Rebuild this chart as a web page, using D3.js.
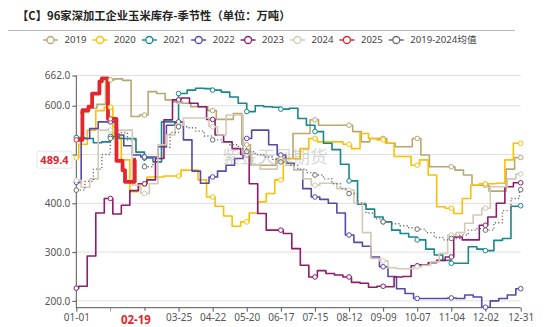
<!DOCTYPE html>
<html><head><meta charset="utf-8">
<script src="https://cdn.jsdelivr.net/npm/d3@7"></script>
<style>
body{margin:0;background:#fff;}
svg{display:block;font-family:"Noto Sans","Noto Sans CJK SC",sans-serif;}
</style>
</head><body>
<svg id="c" width="550" height="327"></svg>
<script>
// ---------------- data ----------------
const seriesNames = ["2019","2020","2021","2022","2023","2024","2025","2019-2024均值"];
const tickLabels = ["01-01","01-29","02-26","03-25","04-22","05-20","06-17","07-15","08-12","09-09","10-07","11-04","12-02","12-31"];
const yTickValues = [200,300,400,500,600,662];

// weekly series: first value at firstDate, second at secondDate, then every 7 days
const firstDates  = ["01-04","01-01","01-01","01-01","01-01","01-01","01-01"];
const secondDates = ["01-11","01-03","01-08","01-05","01-03","01-05","01-08"];

const v2019 = [586,595,603,653,655,652,578,581,629,625,612,608,605,598,598,590,572,572,584,520,478,478,478,492,492,543,543,571,560,560,560,560,547,526,533,533,523,516,516,533,499,475,475,475,468,458,437,437,425,425,470,494];
const v2020 = [493,521,550,590,597,536,489,424,439,454,454,456,456,468,468,448,413,394,374,353,362,380,403,420,448,492,492,512,533,526,526,526,521,512,543,533,530,523,496,496,478,489,458,393,390,379,410,437,440,440,441,489,523];
const v2021 = [535,533,524,526,537,533,533,505,493,485,567,567,625,632,636,635,632,628,618,605,588,600,598,597,593,595,574,560,547,523,510,480,446,398,388,372,362,345,338,331,325,306,294,283,277,277,311,306,303,324,328,394,395];
const v2022 = [443,533,553,567,567,540,518,499,495,495,516,560,567,530,466,441,454,466,478,492,533,550,550,520,499,482,468,430,413,408,400,380,335,320,312,290,270,250,225,215,205,205,205,205,206,205,212,208,187,200,205,212,225];
const v2023 = [226,230,292,380,410,378,396,426,440,448,492,571,612,616,605,598,572,540,526,512,500,440,379,345,345,338,307,273,249,262,256,253,249,238,236,228,230,229,249,250,272,274,278,283,290,331,325,325,355,372,400,434,442];
const v2024 = [447,433,450,550,550,550,550,437,420,440,520,540,560,575,575,575,557,540,581,581,500,478,470,470,490,478,468,450,437,441,441,430,427,400,340,287,282,268,266,266,270,273,280,297,335,340,359,376,390,434,434,450,460];
const vMean = [427,445,470,500,533,545,530,500,475,485,515,545,557,555,548,538,530,525,520,512,506,500,495,490,485,478,470,463,458,450,440,430,420,400,380,368,362,358,354,350,347,340,330,325,328,335,345,348,345,360,385,410,428];

const dates2025 = ["01-01","01-06","01-11","01-14","01-20","01-22","01-27","02-03","02-08","02-10","02-18","02-19"];
const v2025     = [530,591,598,625,650,656,573,487,468,444,489.4,489.4];

const pointerDate = "02-19";
const pointerValue = 489.4;

const colors = ["#b8a870","#fcc000","#15888d","#5a48a6","#8c1c6c","#d3c9b6","#e3262b","#6b6b6b"];

// ---------------- layout ----------------
const svg = d3.select("#c");
const X0 = 76.3, X1 = 520.7, YT = 75.5, YB = 307.7;
const base = new Date(2024,0,1);
const doy = s => { const [m,d] = s.split("-").map(Number); return d3.timeDay.count(base, new Date(2024,m-1,d)); };
const x = d3.scaleLinear().domain([0,365]).range([X0,X1]);
const y = d3.scaleLinear().domain([186,662]).range([YB,YT]);

const px = x(doy(pointerDate));
const py = y(pointerValue);
const boxL = px - 25.5, boxW = 51;

svg.append("defs").append("clipPath").attr("id","clipLeft")
  .append("rect").attr("x",0).attr("y",0).attr("width",boxL).attr("height",327);

// title
svg.append("text").attr("x",17).attr("y",20).attr("font-size",11.3).attr("font-weight","bold")
  .attr("font-family","'Noto Sans CJK SC',sans-serif").attr("fill","#222")
  .text("【C】96家深加工企业玉米库存-季节性（单位：万吨）");
svg.append("line").attr("x1",8).attr("x2",515).attr("y1",30.5).attr("y2",30.5).attr("stroke","#b5b5b5");

// legend
seriesNames.forEach((n,i)=>{
  const lx = 43 + i*49.4, ly = 40;
  const g = svg.append("g");
  g.append("line").attr("x1",lx).attr("x2",lx+15).attr("y1",ly).attr("y2",ly).attr("stroke",colors[i]).attr("stroke-width",1.5);
  g.append("circle").attr("cx",lx+7.5).attr("cy",ly).attr("r",3.5).attr("fill","#fff").attr("stroke",colors[i]).attr("stroke-width",1.3);
  g.append("text").attr("x",lx+21.5).attr("y",ly).attr("dy","0.35em").attr("font-size",9.6).attr("fill","#444").text(n);
});

// grid
const grid = svg.append("g");
yTickValues.forEach(v=>{
  grid.append("line").attr("x1",X0).attr("x2",X1).attr("y1",y(v)).attr("y2",y(v)).attr("stroke","#e0e0e0").attr("stroke-width",1);
});

// axes
const tickDays = tickLabels.map(doy);
// the 500 label sits under the value-pointer label, as in the reference
const yAxis = d3.axisLeft(y).tickValues(yTickValues).tickSize(4)
  .tickFormat(v => Math.abs(y(v)-py) < 12 ? "" : d3.format(".1f")(v));
const gy = svg.append("g").attr("transform",`translate(${X0},0)`).call(yAxis);
gy.select(".domain").attr("stroke","#555").attr("d",`M-0,${YT}V${YB}`);
gy.selectAll(".tick line").attr("stroke","#555");
gy.selectAll(".tick text").attr("font-size",10).attr("fill","#555").attr("x",-6).attr("font-family","'Noto Sans',sans-serif");

const xAxis = d3.axisBottom(x).tickValues(tickDays).tickSize(4).tickFormat((d,i)=>tickLabels[i]);
const gx = svg.append("g").attr("transform",`translate(0,${YB})`).call(xAxis);
gx.select(".domain").attr("stroke","#555").attr("d",`M${X0},0H${X1}`);
gx.selectAll(".tick line").attr("stroke","#555");
gx.selectAll(".tick text").attr("font-size",10).attr("fill","#555").attr("y",6).attr("font-family","'Noto Sans',sans-serif");
// tick label partly hidden behind the date-pointer label
gx.selectAll(".tick").filter(d => x(d) < boxL && x(d) + 14 > boxL)
  .select("text").attr("clip-path","url(#clipLeft)").attr("transform",null);
gx.selectAll(".tick").filter(d => x(d) < boxL && x(d) + 14 > boxL).attr("clip-path","url(#clipLeftT)");
gx.selectAll(".tick").each(function(d){
  if (x(d) < boxL && x(d) + 14 > boxL) {
    const t = d3.select(this);
    const tx = x(d);
    d3.select("defs").append("clipPath").attr("id","clipLeftT").append("rect")
      .attr("x",-tx).attr("y",-10).attr("width",boxL).attr("height",40);
  }
});

// series
const weekly = [v2019,v2020,v2021,v2022,v2023,v2024];
function weeklyPoints(vals, k){
  const d0 = doy(firstDates[k]), d1 = doy(secondDates[k]);
  const pts = vals.map((v,i)=>[i===0?d0:d1+7*(i-1), v]);
  pts.push([365, vals[vals.length-1]]);
  return pts;
}
const allSeries = [];
weekly.forEach((vals,k)=>allSeries.push({pts:weeklyPoints(vals,k), color:colors[k], width:1.6, dash:null}));
allSeries.push({pts:dates2025.map((d,i)=>[doy(d), v2025[i]]), color:colors[6], width:3.8, dash:null});
allSeries.push({pts:weeklyPoints(vMean,6), color:colors[7], width:1.4, dash:"1.2 2.2"});

const line = d3.line().x(d=>x(d[0])).y(d=>y(d[1])).curve(d3.curveStepAfter);
const gl = svg.append("g");
allSeries.forEach(s=>{
  gl.append("path").attr("d",line(s.pts)).attr("fill","none").attr("stroke",s.color)
    .attr("stroke-width",s.width).attr("stroke-dasharray",s.dash).attr("stroke-linejoin","round");
});
// markers at tick dates
allSeries.forEach(s=>{
  const first = s.pts[0][0], last = s.pts[s.pts.length-1][0];
  tickDays.forEach(t=>{
    if(t<first || t>last) return;
    let v = s.pts[0][1];
    for(const p of s.pts){ if(p[0]<=t) v=p[1]; }
    gl.append("circle").attr("cx",x(t)).attr("cy",y(v)).attr("r",2.3).attr("fill","#fff")
      .attr("stroke",s.color).attr("stroke-width",1);
  });
});

// watermark
svg.append("text").attr("x",275).attr("y",158).attr("text-anchor","middle").attr("dominant-baseline","middle")
  .attr("font-size",17.5).attr("fill","#999").attr("opacity",0.4)
  .attr("font-family","'Noto Sans CJK SC',sans-serif").text("紫金天风期货");

// axis pointer labels
const xl = svg.append("g");
xl.append("rect").attr("x",boxL).attr("y",YB+3).attr("width",boxW).attr("height",18).attr("fill","#fff");
xl.append("text").attr("x",px).attr("y",YB+12.5).attr("text-anchor","middle").attr("dy","0.35em")
  .attr("font-size",11.5).attr("font-weight","bold").attr("fill","#e3262b").text(pointerDate);
const yl = svg.append("g");
yl.append("rect").attr("x",37).attr("y",py-8.5).attr("width",35).attr("height",17).attr("rx",2)
  .attr("fill","#fff").attr("stroke","#e6e6e6");
yl.append("text").attr("x",54.5).attr("y",py).attr("text-anchor","middle").attr("dy","0.35em")
  .attr("font-size",11).attr("font-weight","bold").attr("fill","#e3262b").text(d3.format(".1f")(pointerValue));
</script>
</body></html>
